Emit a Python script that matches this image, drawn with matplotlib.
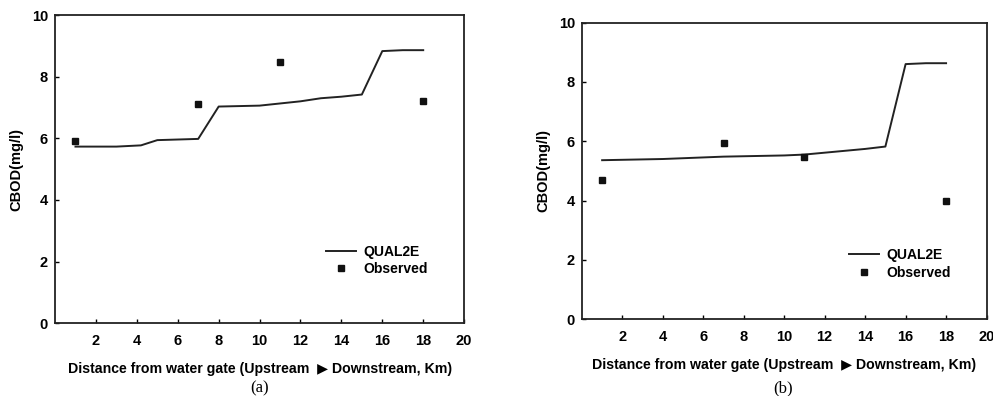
import matplotlib
matplotlib.use("Agg")
import matplotlib.pyplot as plt

plt.rcParams["font.family"] = ["Liberation Sans", "DejaVu Sans"]
plt.rcParams["font.weight"] = "bold"

# panel (a)
a_line_x = [1, 3, 4.2, 5, 7, 8, 10, 12, 13, 14, 15, 16, 17, 18]
a_line_y = [5.73, 5.73, 5.77, 5.94, 5.98, 7.03, 7.06, 7.2, 7.3, 7.35, 7.42, 8.83, 8.86, 8.86]
a_obs_x = [1, 7, 11, 18]
a_obs_y = [5.9, 7.1, 8.48, 7.2]

# panel (b)
b_line_x = [1, 4, 7, 10, 11, 14, 15, 16, 17, 18]
b_line_y = [5.36, 5.40, 5.48, 5.52, 5.55, 5.74, 5.82, 8.6, 8.63, 8.63]
b_obs_x = [1, 7, 11, 18]
b_obs_y = [4.68, 5.95, 5.46, 4.0]

x_ticks = [2, 4, 6, 8, 10, 12, 14, 16, 18, 20]
y_ticks = [0, 2, 4, 6, 8, 10]
xlabel = "Distance from water gate (Upstream  \u25b6 Downstream, Km)"
ylabel = "CBOD(mg/l)"

fig = plt.figure(figsize=(9.93, 3.96), dpi=100)
ax_a = fig.add_axes([0.0554, 0.184, 0.412, 0.778])
ax_b = fig.add_axes([0.586, 0.194, 0.4075, 0.749])

panels = [
    (ax_a, a_line_x, a_line_y, a_obs_x, a_obs_y, "(a)", (0.631, 0.203), 0.261),
    (ax_b, b_line_x, b_line_y, b_obs_x, b_obs_y, "(b)", (0.628, 0.186), 0.789),
]

for ax, lx, ly, ox, oy, tag, leg_pos, cap_x in panels:
    ax.plot(lx, ly, color="#222222", linewidth=1.4, label="QUAL2E")
    ax.plot(ox, oy, linestyle="none", marker="s", markersize=5,
            color="#111111", label="Observed")
    ax.set_xlim(0, 20)
    ax.set_ylim(0, 10)
    ax.set_xticks(x_ticks)
    ax.set_yticks(y_ticks)
    ax.tick_params(direction="in", length=3, labelsize=10.5, width=1)
    ax.tick_params(axis="y", pad=5)
    ax.tick_params(axis="x", pad=8)
    for lbl in ax.get_xticklabels() + ax.get_yticklabels():
        lbl.set_fontweight("bold")
    for sp in ax.spines.values():
        sp.set_linewidth(1.3)
        sp.set_color("#222222")
    ax.set_xlabel(xlabel, fontsize=10.2, fontweight="bold", labelpad=10)
    ax.set_ylabel(ylabel, fontsize=10.5, fontweight="bold", labelpad=6)
    ax.legend(loc="center left", bbox_to_anchor=leg_pos, frameon=False,
              handlelength=2.2, handletextpad=0.5, labelspacing=0.25,
              prop={"weight": "bold", "size": 10})
    fig.text(cap_x, 0.02, tag, ha="center", va="center",
             fontsize=12, family="Liberation Serif", fontweight="normal")

fig.savefig("out.png", dpi=100)
